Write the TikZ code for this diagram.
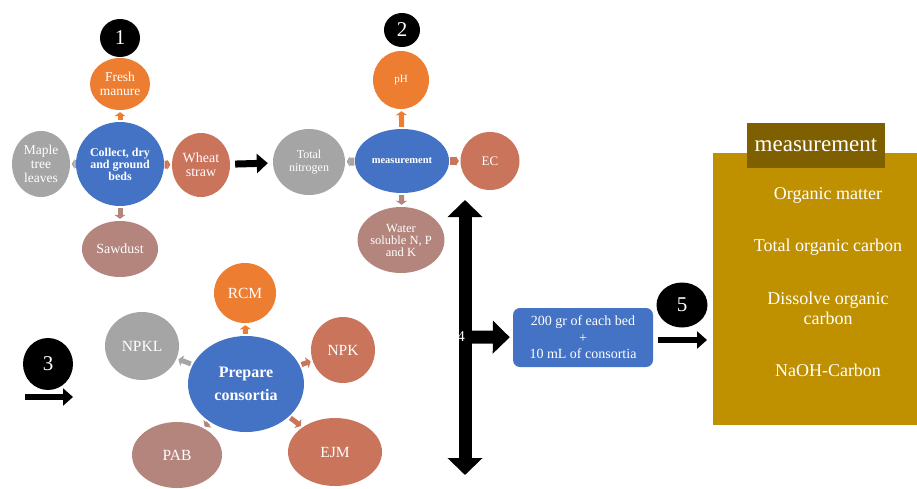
\documentclass[tikz,border=0pt]{standalone}
\usepackage{fontspec}
\setmainfont{Liberation Serif}
\usetikzlibrary{arrows.meta,shapes.geometric}
\definecolor{cblue}{HTML}{4472C4}
\definecolor{corange}{HTML}{ED7D31}
\definecolor{cgray}{HTML}{A5A5A5}
\definecolor{cbrown}{HTML}{C9745B}
\definecolor{crose}{HTML}{B3857D}
\definecolor{cgold}{HTML}{BF9000}
\definecolor{cdgold}{HTML}{7F6000}
\newcommand{\fs}[2]{\fontsize{#1}{#2}\selectfont}
\tikzset{
  bub/.style={ellipse, inner sep=0pt, text=white, align=center},
  badge/.style={ellipse, inner sep=0pt, fill=black, text=white, font=\fs{21}{21}},
  sarr/.style={line width=5pt, -{Triangle[length=4pt,width=11pt]}, shorten <=2pt, shorten >=2pt},
  bigarr/.style={line width=13pt, -{Triangle[length=17pt,width=32pt]}},
  midarr/.style={line width=6pt, -{Triangle[length=10pt,width=17pt]}},
  item/.style={text=white, align=center, font=\fs{18}{20}}
}
\begin{document}
\begin{tikzpicture}[x=1pt,y=-1pt]
\useasboundingbox (0,0) rectangle (917,488);

% ---------- cluster 1 ----------
\node[badge, minimum width=40pt, minimum height=38pt] (b1) at (120,38) {1};
\node[bub, fill=cblue, minimum width=88pt, minimum height=84pt, font=\bfseries\fs{12}{12}] (c1) at (120,164) {Collect, dry\\and ground\\beds};
\node[bub, fill=corange, minimum width=60pt, minimum height=52pt, font=\fs{13.5}{13.5}] (fm) at (120,84) {Fresh\\manure};
\node[bub, fill=cgray, minimum width=58pt, minimum height=66pt, font=\fs{13.5}{14}] (ml) at (41,164) {Maple\\tree\\leaves};
\node[bub, fill=cbrown, minimum width=58pt, minimum height=64pt, font=\fs{14}{14}] (ws) at (201,165) {Wheat\\straw};
\node[bub, fill=crose, minimum width=76pt, minimum height=56pt, font=\fs{14}{14}] (sd) at (120,249) {Sawdust};
\draw[sarr, corange] (c1) -- (fm);
\draw[sarr, cgray, line width=8pt, -{Triangle[length=3pt,width=10pt]}, shorten <=0.5pt, shorten >=1.5pt] (c1) -- (ml);
\draw[sarr, cbrown, line width=8pt, -{Triangle[length=3pt,width=10pt]}, shorten <=0.5pt, shorten >=1.5pt] (c1) -- (ws);
\draw[sarr, crose] (c1) -- (sd);

% ---------- cluster 2 ----------
\node[badge, minimum width=36pt, minimum height=34pt] (b2) at (402,30) {2};
\node[bub, fill=cblue, minimum width=94pt, minimum height=64pt, font=\bfseries\fs{10.5}{11}] (c2) at (402,161) {measurement};
\node[bub, fill=corange, minimum width=56pt, minimum height=58pt, font=\fs{11}{11}] (ph) at (401,80) {pH};
\node[bub, fill=cgray, minimum width=72pt, minimum height=66pt, font=\fs{12}{13}] (tn) at (309,162) {Total\\nitrogen};
\node[bub, fill=cbrown, minimum width=59pt, minimum height=58pt, font=\fs{13}{13}] (ec) at (490,161) {EC};
\node[bub, fill=crose, minimum width=82pt, minimum height=66pt, font=\fs{12.5}{12}] (wsnpk) at (401,240) {Water\\soluble N, P\\and K};
\draw[sarr, corange] (c2) -- (ph);
\draw[sarr, cgray, line width=8pt, -{Triangle[length=3pt,width=10pt]}, shorten <=0.5pt, shorten >=1.5pt] (c2) -- (tn);
\draw[sarr, cbrown, line width=8pt, -{Triangle[length=3pt,width=10pt]}, shorten <=0.5pt, shorten >=1.5pt] (c2) -- (ec);
\draw[sarr, crose] (c2) -- (wsnpk);

\draw[line width=7pt, -{Triangle[length=11pt,width=19pt]}, shorten <=5pt, shorten >=5pt] (ws) -- (tn);

% ---------- cluster 3 ----------
\node[badge, minimum width=50pt, minimum height=52pt] (b3) at (48,364) {3};
\coordinate (a3s) at (25,397);
\coordinate (a3e) at (73,397);
\draw[midarr] (a3s) -- (a3e);
\node[bub, fill=cblue, minimum width=116pt, minimum height=96pt, font=\bfseries\fs{16}{23}] (c3) at (246,384) {Prepare\\consortia};
\node[bub, fill=corange, minimum width=62pt, minimum height=60pt, font=\fs{15.5}{16}] (rcm) at (245,293) {RCM};
\node[bub, fill=cgray, minimum width=74pt, minimum height=68pt, font=\fs{15.5}{16}] (npkl) at (142,346) {NPKL};
\node[bub, fill=cbrown, minimum width=64pt, minimum height=66pt, font=\fs{15.5}{16}] (npk) at (343,350) {NPK};
\node[bub, fill=crose, minimum width=90pt, minimum height=66pt, font=\fs{15.5}{16}] (pab) at (177,455) {PAB};
\node[bub, fill=cbrown, minimum width=94pt, minimum height=68pt, font=\fs{15.5}{16}] (ejm) at (335,452) {EJM};
\draw[sarr, corange] (c3) -- (rcm);
\draw[sarr, cgray] (c3) -- (npkl);
\draw[sarr, cbrown] (c3) -- (npk);
\draw[sarr, crose] (c3) -- (pab);
\draw[sarr, cbrown] (c3) -- (ejm);

% ---------- step 4 ----------
\coordinate (vt) at (465,200);
\coordinate (vb) at (465,475);
\coordinate (vm) at (465,337);
\draw[line width=13pt, {Triangle[length=17pt,width=34pt]}-{Triangle[length=17pt,width=34pt]}] (vt) -- (vb);
\node[rounded corners=7pt, fill=cblue, minimum width=140pt, minimum height=59pt, inner sep=0pt, text=white, align=center, font=\fs{14}{16.5}] (mix) at (583,337.5) {200 gr of each bed\\+\\10 mL of consortia};
\draw[bigarr, shorten >=3pt] (vm) -- (mix);
\node[text=white, font=\fs{15}{15}, inner sep=0pt] (n4) at (461,337) {4};

% ---------- step 5 ----------
\node[badge, minimum width=51pt, minimum height=45pt] (b5) at (682,305) {5};
\node[fill=cgold, minimum width=204pt, minimum height=272pt, inner sep=0pt, anchor=north west] (mbox) at (713,153) {};
\coordinate (a5s) at (658,340);
\draw[midarr, shorten >=6pt] (a5s) -- (a5s -| mbox.west);
\node[fill=cdgold, minimum width=138pt, minimum height=45pt, inner sep=0pt, text=white, font=\fs{23}{23}] (mt) at (816,145.5) {measurement};
\node[item] (i1) at (828,195) {Organic matter};
\node[item] (i2) at (828,247) {Total organic carbon};
\node[item] (i3) at (828,308) {Dissolve organic\\carbon};
\node[item] (i4) at (828,370) {NaOH-Carbon};
\end{tikzpicture}
\end{document}
